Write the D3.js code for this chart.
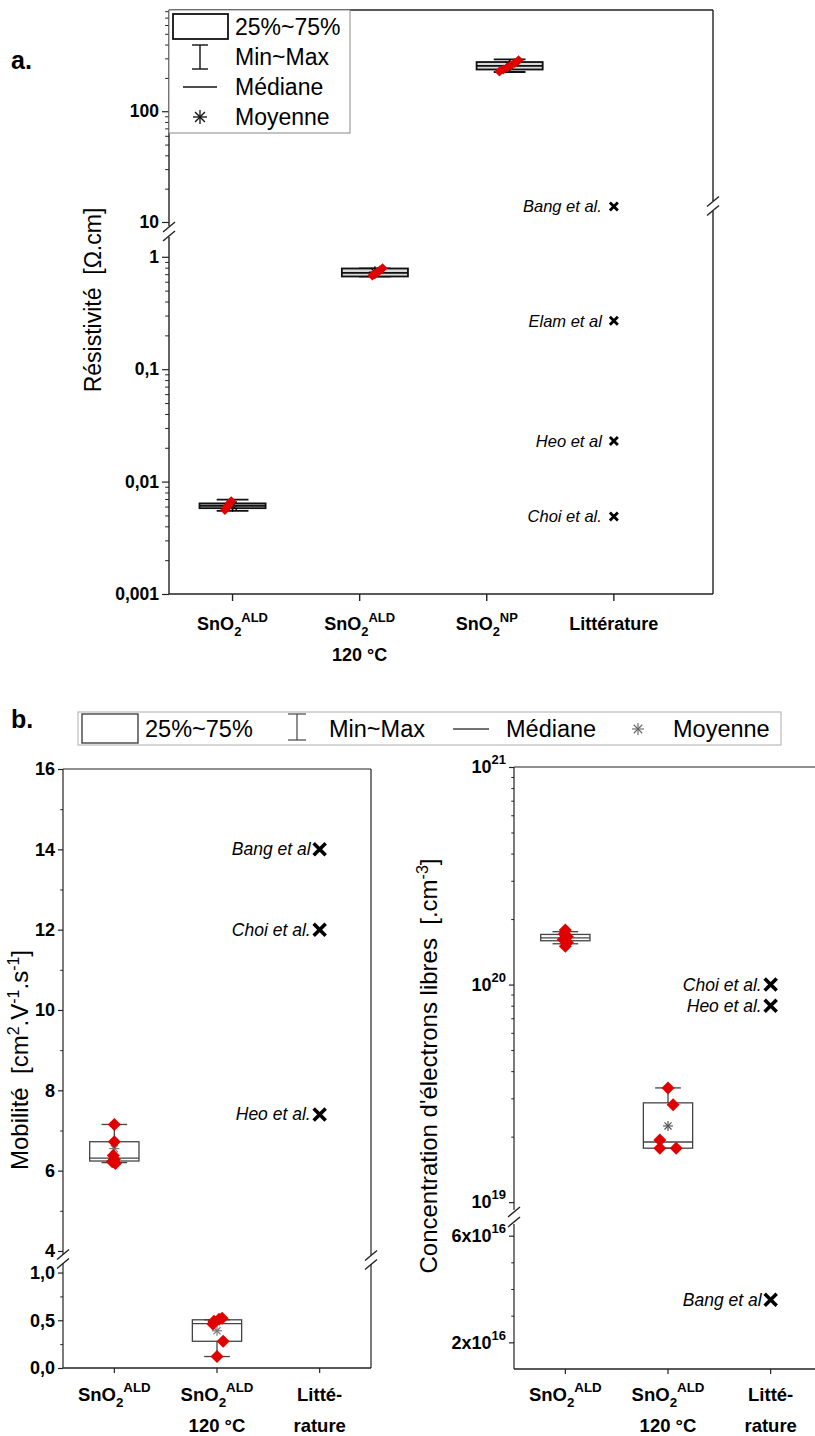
<!DOCTYPE html>
<html><head><meta charset="utf-8">
<script src="https://cdn.jsdelivr.net/npm/d3@7"></script>
<style>
body{margin:0;background:#fff}
svg{font-family:"Liberation Sans",Arial,sans-serif}
</style>
</head><body>
<svg id="c" width="815" height="1436"></svg>
<script>
// ---------------- DATA ----------------
// Panel a : resistivity (Ω.cm)
const resCategories = [
  {main:"SnO", sub:"2", sup:"ALD", line2:""},
  {main:"SnO", sub:"2", sup:"ALD", line2:"120 °C"},
  {main:"SnO", sub:"2", sup:"NP",  line2:""},
  {main:"Littérature", sub:"", sup:"", line2:""}
];
const resBoxPos = [1, 2.12, 3.18];
const resQ1     = [0.0058, 0.668, 238];
const resMedian = [0.0061, 0.72, 257];
const resQ3     = [0.0064, 0.787, 278];
const resMin    = [0.0055, 0.668, 226];
const resMax    = [0.0069, 0.787, 294];
const resMean   = [0.0061, 0.73, 258];
const resPoints = [
  [0.0056, 0.0058, 0.0060, 0.0062, 0.0065, 0.0067],
  [0.68, 0.70, 0.73, 0.76, 0.79],
  [228, 238, 248, 260, 272, 288]
];
const resJitter = [
  [-0.06, -0.05, -0.04, -0.03, -0.02, -0.01],
  [-0.02, 0.0, 0.02, 0.04, 0.06],
  [-0.08, -0.05, -0.02, 0.01, 0.04, 0.07]
];
const resLitNames  = ["Bang et al.", "Elam et al", "Heo et al", "Choi et al."];
const resLitValues = [13.8, 0.27, 0.023, 0.0049];
const resTicksHi = [10, 100];
const resTicksLo = [0.001, 0.01, 0.1, 1];

// Panel b left : mobility (cm².V⁻¹.s⁻¹)
const mobCategories = [
  {main:"SnO", sub:"2", sup:"ALD", line2:""},
  {main:"SnO", sub:"2", sup:"ALD", line2:"120 °C"},
  {main:"Litté-", sub:"", sup:"", line2:"rature"}
];
const mobQ1     = [6.24, 0.28];
const mobMedian = [6.31, 0.465];
const mobQ3     = [6.72, 0.505];
const mobMin    = [6.2, 0.12];
const mobMax    = [7.15, 0.505];
const mobMean   = [6.55, 0.39];
const mobPoints = [
  [7.15, 6.72, 6.38, 6.28, 6.22, 6.18],
  [0.12, 0.28, 0.46, 0.49, 0.51, 0.52]
];
const mobJitter = [
  [0, 0, -0.01, 0.0, -0.02, 0.01],
  [0, 0.06, -0.04, -0.03, 0.02, 0.05]
];
const mobLitNames  = ["Bang et al", "Choi et al.", "Heo et al."];
const mobLitValues = [14, 12, 7.4];
const mobTicksHi = [4, 6, 8, 10, 12, 14, 16];
const mobTicksLo = [0, 0.5, 1.0];

// Panel b right : free electron concentration (cm⁻³)
const conQ1     = [1.59e20, 1.77e19];
const conMedian = [1.64e20, 1.89e19];
const conQ3     = [1.70e20, 2.86e19];
const conMin    = [1.54e20, 1.77e19];
const conMax    = [1.75e20, 3.35e19];
const conMean   = [1.64e20, 2.24e19];
const conPoints = [
  [1.50e20, 1.56e20, 1.61e20, 1.66e20, 1.71e20, 1.78e20],
  [3.35e19, 2.80e19, 1.93e19, 1.77e19, 1.77e19]
];
const conJitter = [
  [0, 0.02, -0.02, 0.02, -0.01, 0],
  [0, 0.05, -0.08, -0.08, 0.08]
];
const conLitNames  = ["Choi et al.", "Heo et al.", "Bang et al"];
const conLitValues = [1.0e20, 0.8e20, 3.6e16];
const conTicksHi = [{v:1e19, m:"10", e:"19"}, {v:1e20, m:"10", e:"20"}, {v:1e21, m:"10", e:"21"}];
const conTicksLo = [{v:2e16, m:"2x10", e:"16"}, {v:6e16, m:"6x10", e:"16"}];

const legendLabels = ["25%~75%", "Min~Max", "Médiane", "Moyenne"];

// ---------------- HELPERS ----------------
const svg = d3.select("#c");
const RED = "#e00000";
const NB = "\u00A0\u00A0";
const comma = d => String(d).replace(".", ",");

function logMinors(lo, hi) {
  const out = [];
  for (let e = Math.floor(Math.log10(lo)); e <= Math.ceil(Math.log10(hi)); e++) {
    for (let k = 2; k <= 9; k++) { const v = k * Math.pow(10, e); if (v >= lo && v <= hi) out.push(v); }
  }
  return out;
}

function richLabel(g, x, y, c, size, anchor) {
  const t = g.append("text").attr("x", x).attr("y", y).attr("text-anchor", anchor || "middle")
    .attr("font-weight", "bold").attr("font-size", size);
  t.append("tspan").text(c.main);
  if (c.sub) t.append("tspan").attr("dy", size * 0.32).attr("font-size", size * 0.72).text(c.sub);
  if (c.sup) t.append("tspan").attr("dy", c.sub ? -size * 0.78 : -size * 0.46).attr("font-size", size * 0.72).text(c.sup);
  if (c.line2) g.append("text").attr("x", x).attr("y", y + size * 1.7).attr("text-anchor", "middle")
    .attr("font-weight", "bold").attr("font-size", size).text(c.line2);
}

function yAxis(g, scale, x, majors, minors, fmt, size, len) {
  const ax = g.append("g").attr("transform", `translate(${x},0)`)
    .call(d3.axisLeft(scale).tickValues(majors).tickFormat(fmt).tickSize(len).tickSizeOuter(0).tickPadding(3));
  ax.select(".domain").remove();
  ax.selectAll("line").attr("stroke", "#222").attr("stroke-width", 1.2);
  ax.selectAll("text").attr("font-size", size).attr("font-weight", "bold").attr("fill", "#000")
    .attr("font-family", "Liberation Sans, Arial, sans-serif");
  if (minors && minors.length) {
    const mx = g.append("g").attr("transform", `translate(${x},0)`)
      .call(d3.axisLeft(scale).tickValues(minors).tickFormat("").tickSize(len * 0.55).tickSizeOuter(0));
    mx.select(".domain").remove();
    mx.selectAll("line").attr("stroke", "#222").attr("stroke-width", 1);
  }
  return ax;
}

function vline(g, x, y1, y2, w) {
  g.append("line").attr("x1", x).attr("x2", x).attr("y1", y1).attr("y2", y2)
    .attr("stroke", "#222").attr("stroke-width", w || 1.4);
}
function hline(g, y, x1, x2, w) {
  g.append("line").attr("x1", x1).attr("x2", x2).attr("y1", y).attr("y2", y)
    .attr("stroke", "#222").attr("stroke-width", w || 1.4);
}
function breakMark(g, x, yc, gap) {
  [-gap / 2, gap / 2].forEach(d => {
    g.append("line").attr("x1", x - 6).attr("y1", yc + d + 5).attr("x2", x + 6).attr("y2", yc + d - 5)
      .attr("stroke", "#222").attr("stroke-width", 1.4);
  });
}
function asterisk(g, x, y, r, color, w) {
  [0, 45, 90, 135].forEach(a => {
    const rad = a * Math.PI / 180;
    g.append("line").attr("x1", x - r * Math.cos(rad)).attr("y1", y - r * Math.sin(rad))
      .attr("x2", x + r * Math.cos(rad)).attr("y2", y + r * Math.sin(rad))
      .attr("stroke", color).attr("stroke-width", w || 1.2);
  });
}
function crossMark(g, x, y, r, w) {
  g.append("path").attr("d", `M${x - r},${y - r}L${x + r},${y + r}M${x - r},${y + r}L${x + r},${y - r}`)
    .attr("stroke", "#000").attr("stroke-width", w).attr("fill", "none");
}
function diamond(g, x, y, r) {
  g.append("path").attr("d", `M${x},${y - r}L${x + r},${y}L${x},${y + r}L${x - r},${y}Z`).attr("fill", RED);
}

function drawBoxes(g, xs, y, pos, q1, med, q3, mn, mx, mean, pts, jit, opt) {
  pos.forEach((p, i) => {
    const cx = xs(p), hw = (xs(p + opt.boxW / 2) - xs(p - opt.boxW / 2)) / 2;
    const cw = (xs(p + opt.capW / 2) - xs(p - opt.capW / 2)) / 2;
    g.append("line").attr("x1", cx).attr("x2", cx).attr("y1", y(mx[i])).attr("y2", y(q3[i])).attr("stroke", opt.stroke).attr("stroke-width", opt.sw);
    g.append("line").attr("x1", cx).attr("x2", cx).attr("y1", y(mn[i])).attr("y2", y(q1[i])).attr("stroke", opt.stroke).attr("stroke-width", opt.sw);
    [mx[i], mn[i]].forEach(v => g.append("line").attr("x1", cx - cw).attr("x2", cx + cw).attr("y1", y(v)).attr("y2", y(v))
      .attr("stroke", opt.stroke).attr("stroke-width", opt.sw));
    g.append("rect").attr("x", cx - hw).attr("y", y(q3[i])).attr("width", 2 * hw).attr("height", Math.max(1, y(q1[i]) - y(q3[i])))
      .attr("fill", opt.fill).attr("stroke", opt.stroke).attr("stroke-width", opt.sw);
    g.append("line").attr("x1", cx - hw).attr("x2", cx + hw).attr("y1", y(med[i])).attr("y2", y(med[i]))
      .attr("stroke", opt.stroke).attr("stroke-width", opt.sw);
    asterisk(g, cx, y(mean[i]), opt.astR, opt.astC, 1.2);
    pts[i].forEach((v, j) => diamond(g, xs(p + jit[i][j]), y(v), opt.dR));
  });
}

// ================= PANEL a =================
const A = {l: 169, r: 713, t: 10, b: 594};
const ga = svg.append("g");
const xRes = d3.scaleLinear().domain([0.5, 4.78]).range([A.l, A.r]);
const yResHi = d3.scaleLog().domain([9.2, 820]).range([226, A.t]);
const yResLo = d3.scaleLog().domain([0.001, 1.5]).range([A.b, 237]);
const yRes = v => v >= 5 ? yResHi(v) : yResLo(v);

hline(ga, A.t, A.l, A.r);
hline(ga, A.b, A.l, A.r);
vline(ga, A.l, A.t, 226); vline(ga, A.l, 237, A.b);
vline(ga, A.r, A.t, 201); vline(ga, A.r, 211, A.b);
breakMark(ga, A.l, 231.5, 9);
breakMark(ga, A.r, 206, 9);

yAxis(ga, yResHi, A.l, resTicksHi, logMinors(9.2, 820).filter(v => v > 10), d => comma(d), 17.5, 7);
yAxis(ga, yResLo, A.l, resTicksLo, logMinors(0.001, 1.5), d => comma(d), 17.5, 7);

resCategories.forEach((c, i) => {
  const x = xRes(i + 1);
  ga.append("line").attr("x1", x).attr("x2", x).attr("y1", A.b).attr("y2", A.b + 7).attr("stroke", "#222").attr("stroke-width", 1.4);
  richLabel(ga, x, 630, c, 18);
});

drawBoxes(ga, xRes, yRes, resBoxPos, resQ1, resMedian, resQ3, resMin, resMax, resMean, resPoints, resJitter,
  {boxW: 0.52, capW: 0.25, stroke: "#111", sw: 1.8, fill: "#d8d8d8", astR: 6, astC: "#000", dR: 5});

resLitNames.forEach((n, i) => {
  const x = xRes(4), y = yRes(resLitValues[i]);
  crossMark(ga, x, y, 4, 2.8);
  ga.append("text").attr("x", x - 12).attr("y", y + 6).attr("text-anchor", "end")
    .attr("font-style", "italic").attr("font-size", 16.5).text(n);
});

ga.append("text").attr("transform", `translate(101,300) rotate(-90)`).attr("text-anchor", "middle")
  .attr("font-size", 23).text("Résistivité" + NB + "[Ω.cm]");

// legend a
const la = ga.append("g");
la.append("rect").attr("x", A.l).attr("y", A.t).attr("width", 181).attr("height", 123)
  .attr("fill", "#fff").attr("stroke", "#888").attr("stroke-width", 1);
la.append("rect").attr("x", 173).attr("y", 14).attr("width", 55).attr("height", 25).attr("fill", "#fff").attr("stroke", "#111").attr("stroke-width", 1.8);
la.append("line").attr("x1", 200).attr("x2", 200).attr("y1", 45).attr("y2", 69).attr("stroke", "#111").attr("stroke-width", 1.4);
[45, 69].forEach(y => la.append("line").attr("x1", 192).attr("x2", 208).attr("y1", y).attr("y2", y).attr("stroke", "#111").attr("stroke-width", 1.4));
la.append("line").attr("x1", 183).attr("x2", 217).attr("y1", 87).attr("y2", 87).attr("stroke", "#111").attr("stroke-width", 1.4);
asterisk(la, 200, 117, 7, "#111", 1.3);
[27, 57, 87, 117].forEach((y, i) => la.append("text").attr("x", 235).attr("y", y + 8).attr("font-size", 23).text(legendLabels[i]));

svg.append("text").attr("x", 11).attr("y", 69).attr("font-size", 25).attr("font-weight", "bold").text("a.");
svg.append("text").attr("x", 11).attr("y", 728).attr("font-size", 25).attr("font-weight", "bold").text("b.");

// legend b
const lb = svg.append("g");
lb.append("rect").attr("x", 78).attr("y", 712).attr("width", 703).attr("height", 33).attr("fill", "#fff").attr("stroke", "#bbb").attr("stroke-width", 1.2);
lb.append("rect").attr("x", 82).attr("y", 714).attr("width", 56).attr("height", 29).attr("fill", "#fff").attr("stroke", "#444").attr("stroke-width", 1.4);
lb.append("line").attr("x1", 297).attr("x2", 297).attr("y1", 714).attr("y2", 740).attr("stroke", "#444").attr("stroke-width", 1.2);
[714, 740].forEach(y => lb.append("line").attr("x1", 288).attr("x2", 306).attr("y1", y).attr("y2", y).attr("stroke", "#444").attr("stroke-width", 1.2));
lb.append("line").attr("x1", 453).attr("x2", 489).attr("y1", 729).attr("y2", 729).attr("stroke", "#444").attr("stroke-width", 1.3);
asterisk(lb, 638, 729, 6, "#666", 1.1);
[145, 329, 506, 673].forEach((x, i) => lb.append("text").attr("x", x).attr("y", 737).attr("font-size", 23.5).text(legendLabels[i]));

// ================= PANEL b left =================
const B = {l: 63, r: 371, t: 769, b: 1368};
const gb = svg.append("g");
const xMob = d3.scaleLinear().domain([0.5, 3.5]).range([B.l, B.r]);
const yMobHi = d3.scaleLinear().domain([3.9, 16]).range([1255, B.t]);
const yMobLo = d3.scaleLinear().domain([0, 1.1]).range([B.b, 1263]);
const yMob = v => v >= 2 ? yMobHi(v) : yMobLo(v);

hline(gb, B.t, B.l, B.r, 1.2);
hline(gb, B.b, B.l, B.r, 1.4);
vline(gb, B.l, B.t, 1255, 1.2); vline(gb, B.l, 1263, B.b, 1.2);
vline(gb, B.r, B.t, 1255, 1.2); vline(gb, B.r, 1264, B.b, 1.2);
breakMark(gb, B.l, 1259, 9);
breakMark(gb, B.r, 1260, 9);

yAxis(gb, yMobHi, B.l, mobTicksHi, [5, 7, 9, 11, 13, 15], d => d, 18, 5);
yAxis(gb, yMobLo, B.l, mobTicksLo, [0.25, 0.75], d => d3.format(".1f")(d).replace(".", ","), 18, 5);

mobCategories.forEach((c, i) => {
  const x = xMob(i + 1);
  gb.append("line").attr("x1", x).attr("x2", x).attr("y1", B.b).attr("y2", B.b + 5).attr("stroke", "#222").attr("stroke-width", 1.2);
  richLabel(gb, x, 1401, c, 18.5);
});

drawBoxes(gb, xMob, yMob, [1, 2], mobQ1, mobMedian, mobQ3, mobMin, mobMax, mobMean, mobPoints, mobJitter,
  {boxW: 0.48, capW: 0.25, stroke: "#444", sw: 1.3, fill: "none", astR: 5, astC: "#777", dR: 6.5});

mobLitNames.forEach((n, i) => {
  const x = xMob(3), y = yMob(mobLitValues[i]);
  crossMark(gb, x, y, 6, 3.6);
  gb.append("text").attr("x", x - 9).attr("y", y + 6).attr("text-anchor", "end")
    .attr("font-style", "italic").attr("font-size", 17.5).text(n);
});

const tMob = gb.append("text").attr("transform", `translate(28,1060) rotate(-90)`).attr("text-anchor", "middle").attr("font-size", 24);
tMob.append("tspan").text("Mobilité" + NB + "[cm");
tMob.append("tspan").attr("dy", -9).attr("font-size", 16).text("2");
tMob.append("tspan").attr("dy", 9).text(".V");
tMob.append("tspan").attr("dy", -9).attr("font-size", 16).text("-1");
tMob.append("tspan").attr("dy", 9).text(".s");
tMob.append("tspan").attr("dy", -9).attr("font-size", 16).text("-1");
tMob.append("tspan").attr("dy", 9).text("]");

// ================= PANEL b right =================
const C = {l: 514, r: 822, t: 767, b: 1369};
const gc = svg.append("g");
const xCon = d3.scaleLinear().domain([0.5, 3.5]).range([C.l, C.r]);
const yConHi = d3.scaleLog().domain([9.3e18, 1e21]).range([1209, C.t]);
const yConLo = d3.scaleLinear().domain([1e16, 6.4e16]).range([C.b, 1225]);
const yCon = v => v >= 1e18 ? yConHi(v) : yConLo(v);

hline(gc, C.t, C.l, C.r, 1.2);
hline(gc, C.b, C.l, C.r, 1.4);
vline(gc, C.l, C.t, 1210, 1.2); vline(gc, C.l, 1224, C.b, 1.2);
breakMark(gc, C.l, 1217, 10);

function supAxis(g, scale, x, ticks, minors) {
  const ax = yAxis(g, scale, x, ticks.map(d => d.v), minors, "", 18, 5);
  ax.selectAll(".tick text").each(function(d) {
    const t = ticks.find(k => k.v === d);
    const el = d3.select(this);
    el.text(null);
    el.append("tspan").text(t.m);
    el.append("tspan").attr("dy", -9).attr("font-size", 13).text(t.e);
  });
}
supAxis(gc, yConHi, C.l, conTicksHi, logMinors(9.3e18, 1e21));
supAxis(gc, yConLo, C.l, conTicksLo, [3e16, 4e16, 5e16]);

mobCategories.forEach((c, i) => {
  const x = xCon(i + 1);
  gc.append("line").attr("x1", x).attr("x2", x).attr("y1", C.b).attr("y2", C.b + 5).attr("stroke", "#222").attr("stroke-width", 1.2);
  richLabel(gc, x, 1401, c, 18.5);
});

drawBoxes(gc, xCon, yCon, [1, 2], conQ1, conMedian, conQ3, conMin, conMax, conMean, conPoints, conJitter,
  {boxW: 0.48, capW: 0.25, stroke: "#444", sw: 1.3, fill: "none", astR: 5, astC: "#555", dR: 6.5});

conLitNames.forEach((n, i) => {
  const x = xCon(3), y = yCon(conLitValues[i]);
  crossMark(gc, x, y, 6, 3.6);
  gc.append("text").attr("x", x - 9).attr("y", y + 6).attr("text-anchor", "end")
    .attr("font-style", "italic").attr("font-size", 17.5).text(n);
});

const tCon = gc.append("text").attr("transform", `translate(437,1066) rotate(-90)`).attr("text-anchor", "middle").attr("font-size", 24);
tCon.append("tspan").text("Concentration d'électrons libres" + NB + "[.cm");
tCon.append("tspan").attr("dy", -9).attr("font-size", 16).text("-3");
tCon.append("tspan").attr("dy", 9).text("]");
</script>
</body></html>
